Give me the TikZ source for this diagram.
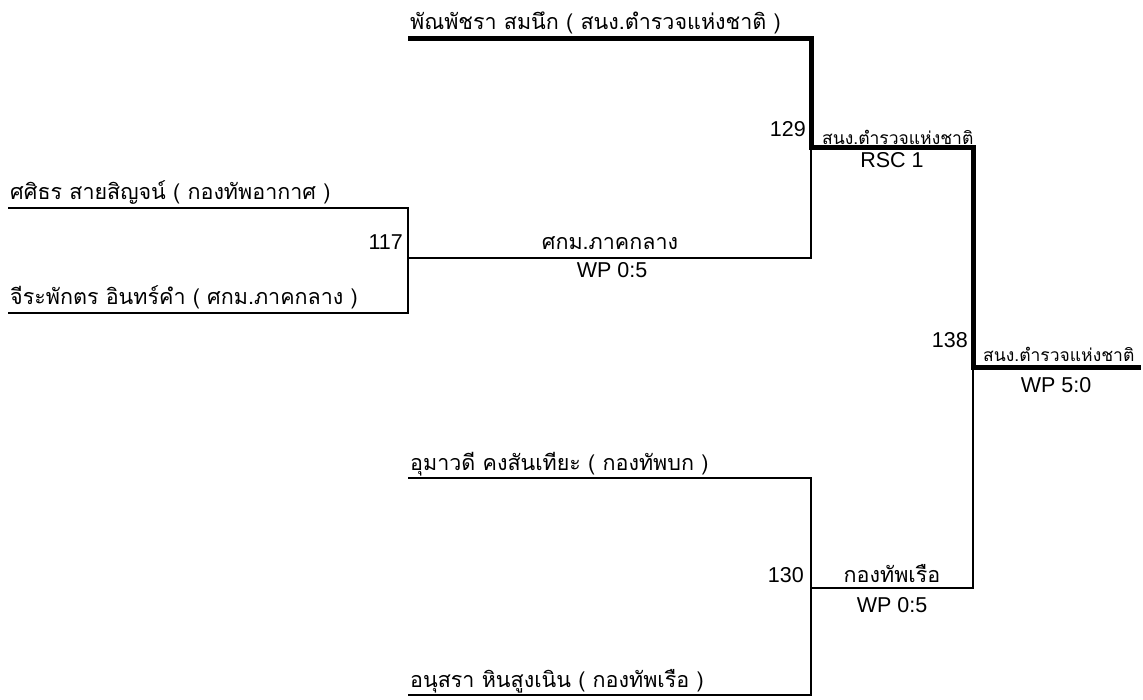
\documentclass[tikz,border=0pt]{standalone}
\usepackage{fontspec}
\setmainfont{Liberation Sans}
\newfontfamily\thai[Script=Thai]{Loma}
\begin{document}
\begin{tikzpicture}[x=1pt,y=-1pt,
  thinln/.style={line width=2pt, line join=miter},
  thickln/.style={line width=5pt, line join=miter},
  nm/.style={font=\fontsize{21.5}{24}\selectfont\thai, anchor=base west, inner sep=0pt},
  num/.style={font=\fontsize{21.5}{24}\selectfont, anchor=base east, inner sep=0pt},
  club/.style={font=\fontsize{21.5}{24}\selectfont\thai, anchor=base, inner sep=0pt},
  smclub/.style={font=\fontsize{17.5}{20}\selectfont\thai, anchor=base west, inner sep=0pt},
  score/.style={font=\fontsize{21.5}{24}\selectfont, anchor=base, inner sep=0pt}]
\useasboundingbox (0,0) rectangle (1143,700);
% coordinates
\coordinate (a1) at (408,39);
\coordinate (w1) at (811,39);
\coordinate (j1) at (811,148);
\coordinate (j1e) at (973,148);
\coordinate (j2) at (973,368);
\coordinate (fin) at (1141,368);
\coordinate (b1) at (8,208);
\coordinate (b2) at (408,208);
\coordinate (b3) at (8,313);
\coordinate (b4) at (408,313);
\coordinate (bm) at (408,258);
\coordinate (bm2) at (811,258);
\coordinate (c1) at (408,478);
\coordinate (c2) at (811,478);
\coordinate (c3) at (408,695);
\coordinate (c4) at (811,695);
\coordinate (cm) at (811,588);
\coordinate (cm2) at (973,588);
% thin lines
\draw[thinln] (b1) -- (b2) -- (b4) -- (b3);
\draw[thinln] (bm) -- (bm2) -- (j1);
\draw[thinln] (c1) -- (c2) -- (c4) -- (c3);
\draw[thinln] (cm) -- (cm2) -- (j2);
% winner path
\draw[thickln] (a1) -- (w1) -- (j1) -- (j1e) -- (j2) -- (fin);
% names
\node[nm] (n1) at (410,30) {พัณพัชรา สมนึก ( สนง.ตำรวจแห่งชาติ )};
\node[nm] (n2) at (10,200) {ศศิธร สายสิญจน์ ( กองทัพอากาศ )};
\node[nm] (n3) at (10,305) {จีระพักตร อินทร์คำ ( ศกม.ภาคกลาง )};
\node[nm] (n4) at (410,470) {อุมาวดี คงสันเทียะ ( กองทัพบก )};
\node[nm] (n5) at (410,687) {อนุสรา หินสูงเนิน ( กองทัพเรือ )};
% bout numbers
\node[num] (m117) at (403,250) {117};
\node[num] (m129) at (806,137) {129};
\node[num] (m138) at (968,348) {138};
\node[num] (m130) at (804,582) {130};
% winners and scores
\node[club] (w117) at (610,250) {ศกม.ภาคกลาง};
\node[score] (s117) at (612,278) {WP 0:5};
\node[smclub] (w129) at (822,145) {สนง.ตำรวจแห่งชาติ};
\node[score] (s129) at (892,168) {RSC 1};
\node[smclub] (w138) at (983,362) {สนง.ตำรวจแห่งชาติ};
\node[score] (s138) at (1056,392) {WP 5:0};
\node[club] (w130) at (892,582) {กองทัพเรือ};
\node[score] (s130) at (892,612) {WP 0:5};
\end{tikzpicture}
\end{document}
